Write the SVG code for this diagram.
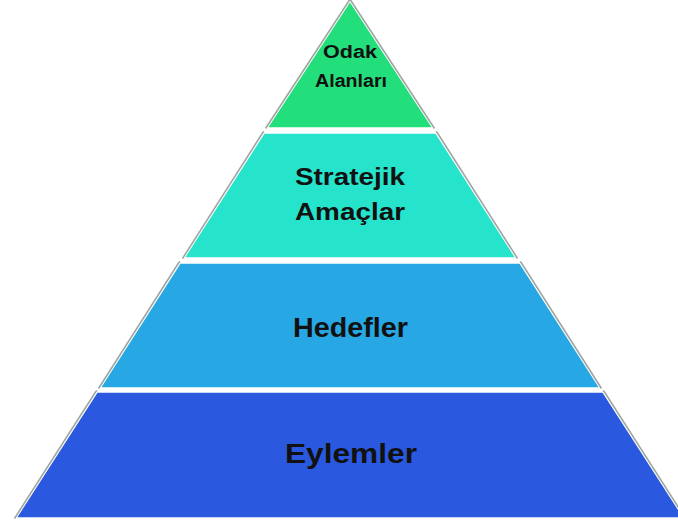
<svg xmlns="http://www.w3.org/2000/svg" width="678" height="522" viewBox="0 0 678 522">
<style>
.lay{stroke:#ffffff;stroke-width:1.5}
.edge{fill:none;stroke:#9fa6a2;stroke-width:1.6}
.t{font-family:"Liberation Sans",Arial,sans-serif;font-weight:bold;fill:#111111;text-anchor:middle}
</style>
<rect width="678" height="522" fill="#ffffff"/>
<g id="connectors"></g>
<g id="odak-alanlari">
<polygon class="lay" fill="#22df7b" points="350,1 433,128 267,128"/>
<polyline class="edge" points="265.5,128.5 349.5,0 350.5,0 434.5,128.5"/>
<text class="t" x="350" y="58" font-size="18" textLength="54" lengthAdjust="spacingAndGlyphs">Odak</text>
<text class="t" x="351" y="87" font-size="18" textLength="72" lengthAdjust="spacingAndGlyphs">Alanları</text>
</g>
<g id="stratejik-amaclar">
<polygon class="lay" fill="#26e3cc" points="264,133 436,133 516,258 184,258"/>
<polyline class="edge" points="264,131.5 262.5,133 182.5,258.5"/>
<polyline class="edge" points="436,131.5 437.5,133 517.5,258.5"/>
<text class="t" x="350" y="185" font-size="24" textLength="110" lengthAdjust="spacingAndGlyphs">Stratejik</text>
<text class="t" x="350" y="220" font-size="24" textLength="110" lengthAdjust="spacingAndGlyphs">Amaçlar</text>
</g>
<g id="hedefler">
<polygon class="lay" fill="#27a8e4" points="180,263 520,263 600,388 100,388"/>
<polyline class="edge" points="180,261.5 178.5,263 98.5,388.5"/>
<polyline class="edge" points="520,261.5 521.5,263 601.5,388.5"/>
<text class="t" x="350.5" y="337" font-size="28" textLength="115" lengthAdjust="spacingAndGlyphs">Hedefler</text>
</g>
<g id="eylemler">
<polygon class="lay" fill="#2a59e0" points="97,392 603,392 684,518 16,518"/>
<polyline class="edge" points="97,390.5 95.5,392 14.5,518.5"/>
<polyline class="edge" points="603,390.5 604.5,392 685.5,518.5"/>
<text class="t" x="351" y="463" font-size="28" textLength="132" lengthAdjust="spacingAndGlyphs">Eylemler</text>
</g>
</svg>
